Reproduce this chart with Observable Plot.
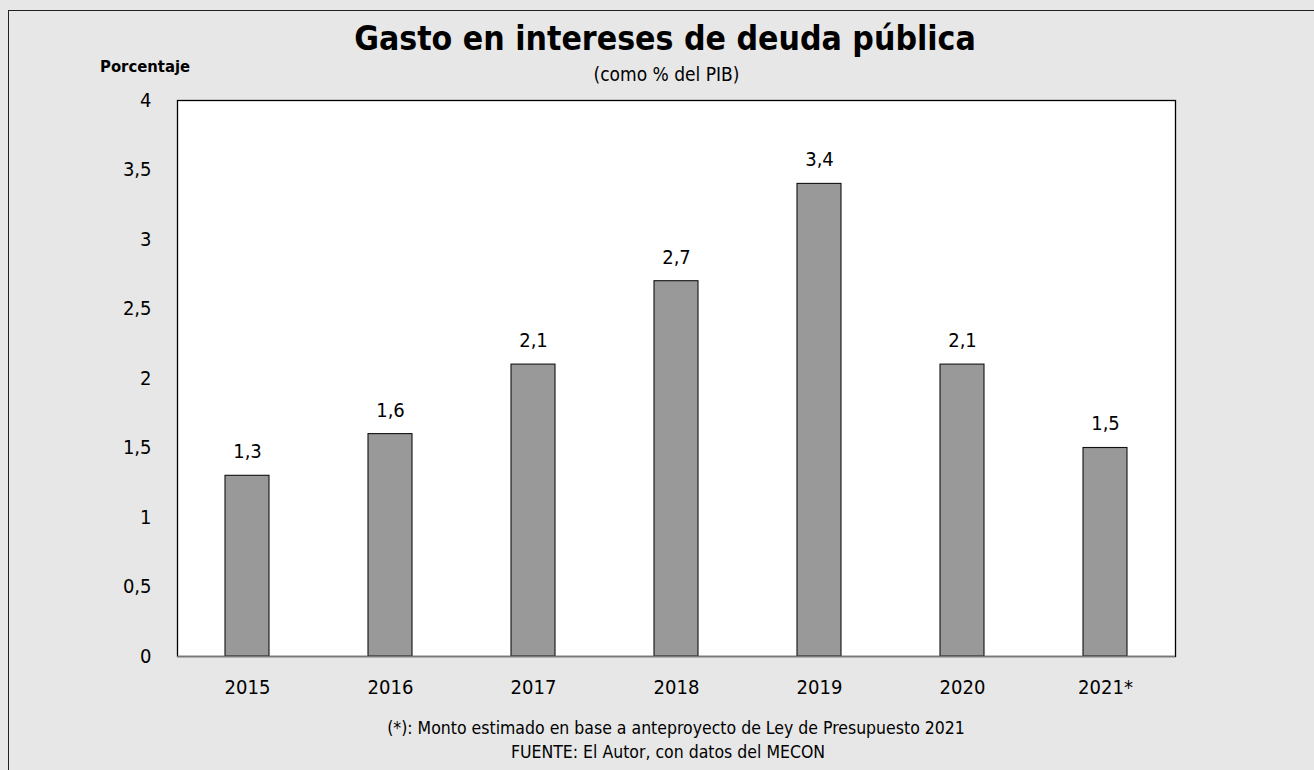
<!DOCTYPE html>
<html><head><meta charset="utf-8">
<script src="https://cdn.jsdelivr.net/npm/d3@7"></script>
<script src="https://cdn.jsdelivr.net/npm/@observablehq/plot@0.6"></script>
<style>
html,body{margin:0;padding:0;background:#fff;}
#wrap{position:relative;width:1314px;height:770px;background:#e7e7e7;overflow:hidden;font-family:"DejaVu Sans Condensed","Liberation Sans",sans-serif;}
#frame{position:absolute;left:8px;top:10px;width:1320px;height:780px;border:1.5px solid #222;box-sizing:border-box;}
#title{position:absolute;left:0;width:1330px;top:19px;text-align:center;font-family:"DejaVu Sans Condensed",sans-serif;font-weight:bold;font-size:33.5px;line-height:40px;color:#000;}
#subtitle{position:absolute;left:0;width:1333px;top:62px;text-align:center;font-size:19px;line-height:24px;color:#000;}
#ylab{position:absolute;left:100px;top:56px;font-size:16.5px;line-height:22px;font-weight:bold;color:#000;}
#cap1,#cap2{position:absolute;left:0;width:1334px;text-align:center;font-size:17.5px;line-height:22px;color:#000;}
#cap1{top:717px;left:9px;} #cap2{top:741px;left:1px;}
#chart{position:absolute;left:0;top:0;}
</style></head>
<body>
<div id="wrap">
  <div id="frame"></div>
  <div id="chart"></div>
  <div id="title">Gasto en intereses de deuda pública</div>
  <div id="subtitle">(como % del PIB)</div>
  <div id="ylab">Porcentaje</div>
  <div id="cap1">(*): Monto estimado en base a anteproyecto de Ley de Presupuesto 2021</div>
  <div id="cap2">FUENTE: El Autor, con datos del MECON</div>
</div>
<script>
const years = ["2015","2016","2017","2018","2019","2020","2021*"];
const values = [1.3, 1.6, 2.1, 2.7, 3.4, 2.1, 1.5];
const yTicks = [0, 0.5, 1, 1.5, 2, 2.5, 3, 3.5, 4];

const data = years.map((y, i) => ({year: y, value: values[i]}));
const fmt = d => String(d).replace(".", ",");

const chart = Plot.plot({
  width: 1314,
  height: 770,
  marginLeft: 177,
  marginRight: 139,
  marginTop: 100,
  marginBottom: 114,
  style: {background: "transparent", fontFamily: "'DejaVu Sans Condensed','Liberation Sans',sans-serif", fontSize: "20px", color: "#000"},
  x: {domain: years, paddingInner: 0.69, paddingOuter: 0.33, label: null},
  y: {domain: [0, 4], label: null},
  marks: [
    Plot.frame({fill: "white", stroke: "#000", strokeWidth: 1.3}),
    Plot.barY(data, {x: "year", y: "value", fill: "#999999", stroke: "#111", strokeWidth: 1.1}),
    Plot.ruleY([0], {stroke: "#777", strokeWidth: 1.5}),
    Plot.text(data, {x: "year", y: "value", text: d => fmt(d.value), dy: -24, fontSize: 20, fill: "#000"}),
    Plot.axisY({ticks: yTicks, tickSize: 0, tickPadding: 26, tickFormat: fmt, fontSize: 20, fill: "#000"}),
    Plot.axisX({tickSize: 0, tickPadding: 23, fontSize: 20, fill: "#000"})
  ]
});
document.getElementById("chart").appendChild(chart);
</script>
</body></html>
